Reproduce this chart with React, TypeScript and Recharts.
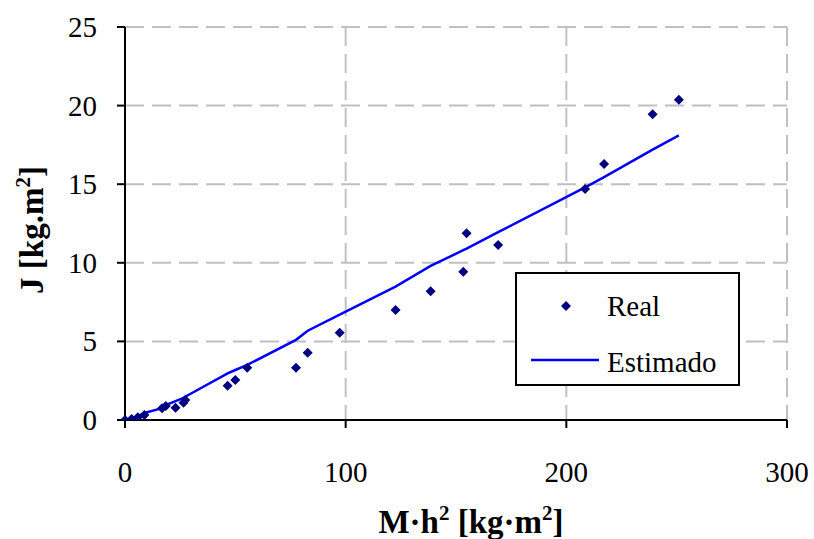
import React from 'react';
import { ComposedChart, Scatter, Line, XAxis, YAxis, CartesianGrid, Label } from 'recharts';

// M·h² values [kg·m²], measured J and estimated J [kg·m²]
const mh2 = [0, 3, 5.8, 8.8, 16.8, 18.5, 22.9, 26.5, 27.3, 46.5, 50, 55.4, 77.5, 82.8, 97.3, 122.6, 138.5, 153.3, 154.8, 169.1, 208.5, 217.1, 239.1, 251];
const jReal = [0, 0.06, 0.17, 0.32, 0.74, 0.89, 0.78, 1.1, 1.27, 2.18, 2.54, 3.33, 3.33, 4.28, 5.55, 7.0, 8.19, 9.43, 11.88, 11.13, 14.69, 16.28, 19.45, 20.38];
const jEst = [-0.1, 0.1, 0.25, 0.45, 0.75, 0.95, 1.2, 1.4, 1.48, 2.97, 3.18, 3.5, 5.1, 5.68, 6.7, 8.48, 9.8, 10.8, 10.9, 11.95, 14.8, 15.45, 17.2, 18.1];

const xTicks = [0, 100, 200, 300];
const yTicks = [0, 5, 10, 15, 20, 25];

const data = mh2.map((x, i) => ({ x, real: jReal[i], est: jEst[i] }));

const serif = { fontFamily: "'Liberation Serif'" };
const NAVY = '#000080';
const BLUE = '#0000ff';

const Diamond = (props: any) => {
  const { cx, cy } = props;
  const r = 5;
  return (
    <polygon
      points={`${cx},${cy - r} ${cx + r},${cy} ${cx},${cy + r} ${cx - r},${cy}`}
      fill={NAVY}
    />
  );
};

const XTick = ({ x, payload }: any) => (
  <text x={x} y={482} textAnchor="middle" fontSize={29} style={serif} fill="#000">
    {payload.value}
  </text>
);

const YTick = ({ y, payload }: any) => (
  <text x={97} y={y} textAnchor="end" dominantBaseline="central" fontSize={29} style={serif} fill="#000">
    {payload.value}
  </text>
);

export default function App() {
  return (
    <div style={{ position: 'absolute', left: 0, top: 0, width: 814, height: 539, background: '#fff', ...serif }}>
      <ComposedChart
        width={814}
        height={539}
        data={data}
        margin={{ top: 27, right: 27, bottom: 59, left: 65 }}
        style={serif}
      >
        <CartesianGrid stroke="#c0c0c0" strokeWidth={2} strokeDasharray="19 8" />
        <XAxis
          dataKey="x"
          type="number"
          domain={[0, 300]}
          ticks={xTicks}
          height={60}
          tickSize={8}
          tick={<XTick />}
          axisLine={{ stroke: '#000', strokeWidth: 2 }}
          tickLine={{ stroke: '#000', strokeWidth: 2 }}
        >
          <Label
            content={() => (
              <text x={471} y={533} textAnchor="middle" fontSize={33} fontWeight="bold" style={serif} fill="#000">
                M·h<tspan fontSize={21} dy={-13}>2</tspan>
                <tspan dy={13}> [kg·m</tspan>
                <tspan fontSize={21} dy={-13}>2</tspan>
                <tspan dy={13}>]</tspan>
              </text>
            )}
          />
        </XAxis>
        <YAxis
          type="number"
          domain={[0, 25]}
          ticks={yTicks}
          allowDataOverflow
          width={60}
          tickSize={8}
          tick={<YTick />}
          axisLine={{ stroke: '#000', strokeWidth: 2 }}
          tickLine={{ stroke: '#000', strokeWidth: 2 }}
        >
          <Label
            content={() => (
              <text
                x={43}
                y={230}
                transform="rotate(-90 43 230)"
                textAnchor="middle"
                fontSize={33}
                fontWeight="bold"
                style={serif}
                fill="#000"
              >
                J [kg.m<tspan fontSize={21} dy={-13}>2</tspan>
                <tspan dy={13}>]</tspan>
              </text>
            )}
          />
        </YAxis>
        <Line
          dataKey="est"
          type="linear"
          stroke={BLUE}
          strokeWidth={2.5}
          dot={false}
          activeDot={false}
          isAnimationActive={false}
        />
        <Scatter dataKey="real" shape={<Diamond />} isAnimationActive={false} />
      </ComposedChart>

      <div
        style={{
          position: 'absolute',
          left: 515,
          top: 272,
          width: 221,
          height: 110,
          border: '2px solid #000',
          background: '#fff',
        }}
      >
        <svg width={221} height={110} style={{ position: 'absolute', left: 0, top: 0 }}>
          <polygon points="49,27 54,32 49,37 44,32" fill={NAVY} />
          <line x1={14} y1={86} x2={82} y2={86} stroke={BLUE} strokeWidth={2.5} />
          <text x={90} y={42} fontSize={29} style={serif} fill="#000">Real</text>
          <text x={90} y={98} fontSize={29} style={serif} fill="#000">Estimado</text>
        </svg>
      </div>
    </div>
  );
}
